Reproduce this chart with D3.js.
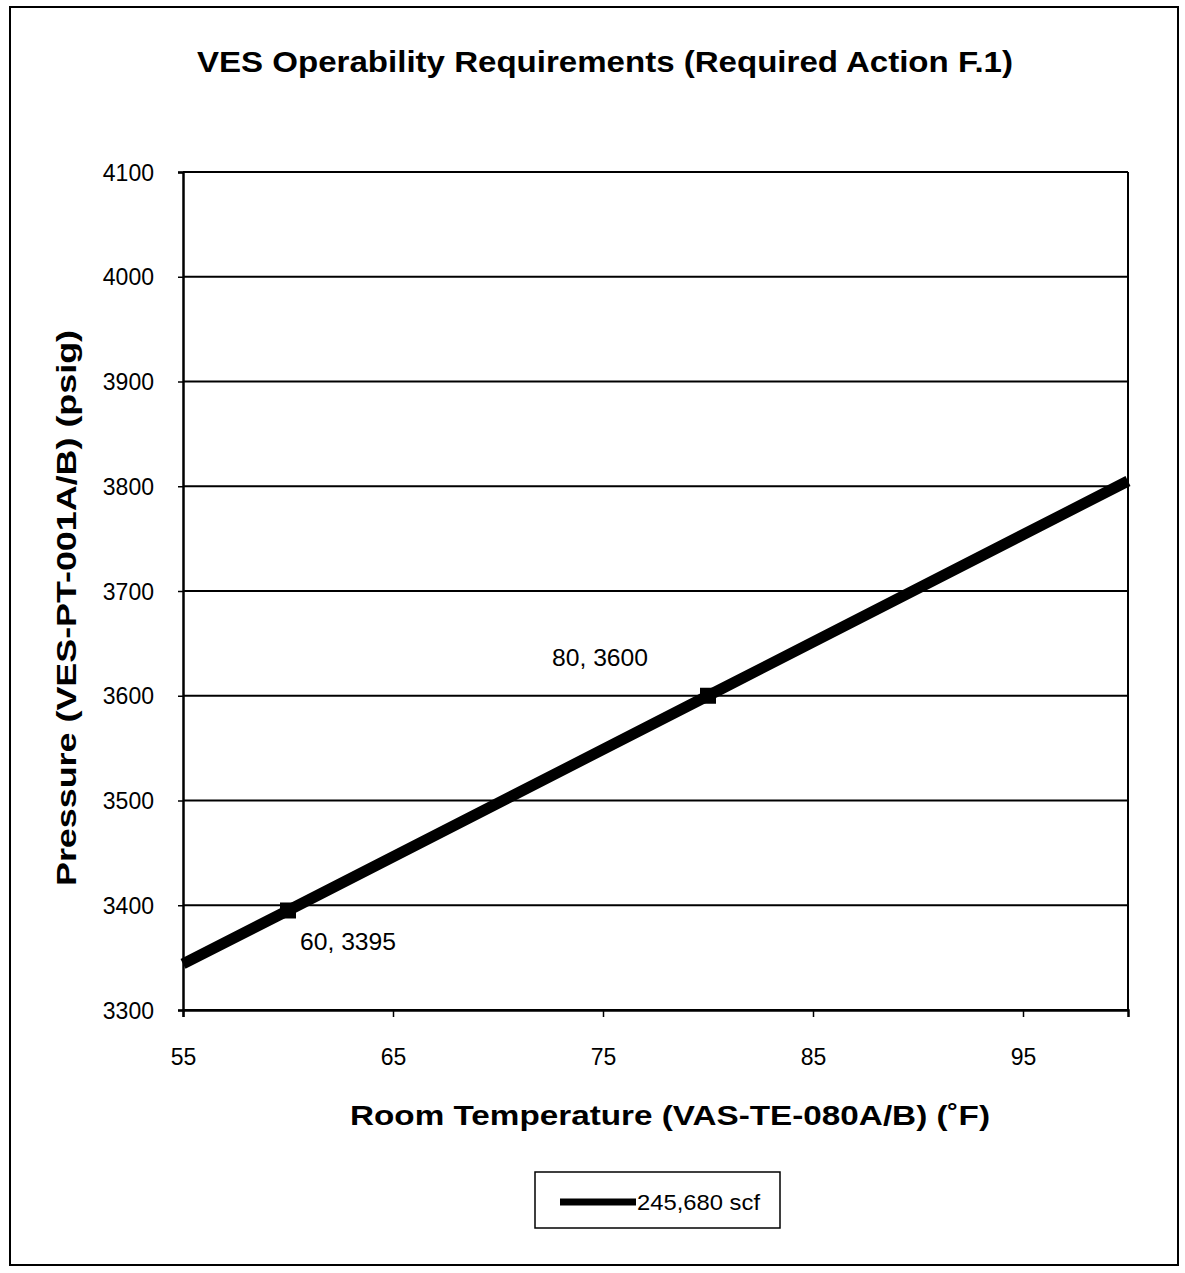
<!DOCTYPE html>
<html>
<head>
<meta charset="utf-8">
<script src="https://cdn.jsdelivr.net/npm/d3@7"></script>
<style>
  body { margin: 0; background: #fff; }
  text { font-family: "Liberation Sans", Arial, sans-serif; fill: #000; }
</style>
</head>
<body>
<div id="chart"></div>
<script>
// data
var temps = [55, 60, 80, 100];
var pressures = [3344, 3395, 3600, 3805];
var labelled = [60, 80]; // points with marker + data label
var xTicks = [55, 65, 75, 85, 95];
var yTicks = [3300, 3400, 3500, 3600, 3700, 3800, 3900, 4000, 4100];
var seriesName = "245,680 scf";

var W = 1185, H = 1273;
var margin = { top: 172, left: 183, right: W - 1128, bottom: H - 1010 },
    width = W - margin.left - margin.right,
    height = H - margin.top - margin.bottom;

var root = d3.select("#chart").append("svg")
    .attr("width", W).attr("height", H);

// outer frame
root.append("rect")
  .attr("x", 10).attr("y", 7).attr("width", 1168).attr("height", 1258)
  .attr("fill", "none").attr("stroke", "#000").attr("stroke-width", 2);

// the scan is a bit stretched sideways, so titles get a fixed length
root.append("text")
  .attr("x", 605).attr("y", 72)
  .attr("text-anchor", "middle")
  .attr("textLength", 816).attr("lengthAdjust", "spacingAndGlyphs")
  .style("font-size", "30px").style("font-weight", "bold")
  .text("VES Operability Requirements (Required Action F.1)");

var svg = root.append("g")
  .attr("transform", "translate(" + margin.left + "," + margin.top + ")");

var x = d3.scaleLinear().domain([55, 100]).range([0, width]);
var y = d3.scaleLinear().domain([3300, 4100]).range([height, 0]);

// gridlines
svg.selectAll(".grid").data(yTicks).enter().append("line")
  .attr("x1", 0).attr("x2", width)
  .attr("y1", function(d) { return y(d); })
  .attr("y2", function(d) { return y(d); })
  .attr("stroke", "#000").attr("stroke-width", 2);

// right border
svg.append("line")
  .attr("x1", width).attr("x2", width).attr("y1", 0).attr("y2", height)
  .attr("stroke", "#000").attr("stroke-width", 2);

var yAxis = svg.append("g")
  .call(d3.axisLeft(y).tickValues(yTicks).tickSize(5).tickPadding(24).tickFormat(d3.format("d")));
var xAxis = svg.append("g")
  .attr("transform", "translate(0," + height + ")")
  .call(d3.axisBottom(x).tickValues(xTicks).tickSize(7).tickPadding(32).tickFormat(d3.format("d")));

[yAxis, xAxis].forEach(function(a) {
  a.select(".domain").attr("stroke", "#000").attr("stroke-width", 2.5);
  a.selectAll(".tick line").attr("stroke", "#000").attr("stroke-width", 1.5);
  a.selectAll("text").style("font-size", "23px")
    .style("font-family", "'Liberation Sans', Arial, sans-serif").attr("fill", "#000");
});
yAxis.selectAll("text").attr("dy", "0.35em");

var data = temps.map(function(t, i) { return { t: t, p: pressures[i] }; });

var line = d3.line()
  .x(function(d) { return x(d.t); })
  .y(function(d) { return y(d.p); });

svg.append("path")
  .datum(data)
  .attr("d", line)
  .attr("fill", "none")
  .attr("stroke", "#000")
  .attr("stroke-width", 11);

var pts = data.filter(function(d) { return labelled.indexOf(d.t) >= 0; });

svg.selectAll(".mk").data(pts).enter().append("rect")
  .attr("x", function(d) { return x(d.t) - 8; })
  .attr("y", function(d) { return y(d.p) - 8; })
  .attr("width", 16).attr("height", 16)
  .attr("fill", "#000");

// data labels: 60 below-right, 80 above-left
svg.selectAll(".lbl").data(pts).enter().append("text")
  .attr("x", function(d) { return d.t === 60 ? x(d.t) + 12 : x(d.t) - 156; })
  .attr("y", function(d) { return d.t === 60 ? y(d.p) + 40 : y(d.p) - 30; })
  .attr("textLength", 96).attr("lengthAdjust", "spacingAndGlyphs")
  .style("font-size", "23px")
  .text(function(d) { return d.t + ", " + d.p; });

// axis titles
root.append("text")
  .attr("x", 670).attr("y", 1125)
  .attr("text-anchor", "middle")
  .attr("textLength", 640).attr("lengthAdjust", "spacingAndGlyphs")
  .style("font-size", "28px").style("font-weight", "bold")
  .text("Room Temperature (VAS-TE-080A/B) (\u02daF)");

root.append("text")
  .attr("transform", "translate(76,608) rotate(-90)")
  .attr("text-anchor", "middle")
  .attr("textLength", 556).attr("lengthAdjust", "spacingAndGlyphs")
  .style("font-size", "27px").style("font-weight", "bold")
  .text("Pressure (VES-PT-001A/B) (psig)");

// legend
var lg = root.append("g").attr("transform", "translate(535,1172)");
lg.append("rect").attr("width", 245).attr("height", 56)
  .attr("fill", "#fff").attr("stroke", "#000").attr("stroke-width", 1.5);
lg.append("line").attr("x1", 25).attr("x2", 101).attr("y1", 30).attr("y2", 30)
  .attr("stroke", "#000").attr("stroke-width", 7);
lg.append("text").attr("x", 102).attr("y", 38)
  .attr("textLength", 123).attr("lengthAdjust", "spacingAndGlyphs")
  .style("font-size", "22px").text(seriesName);
</script>
</body>
</html>
